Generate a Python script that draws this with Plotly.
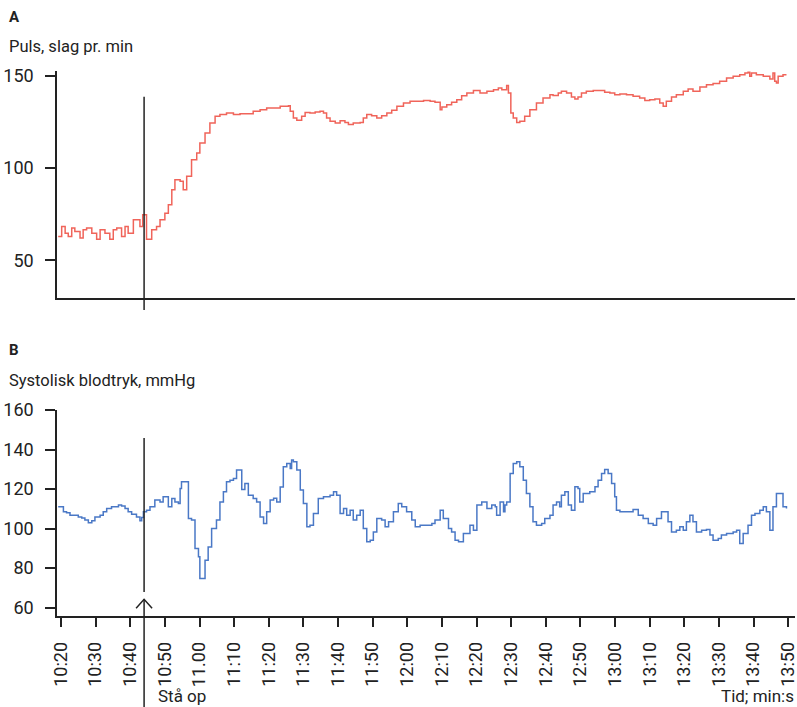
import plotly.graph_objects as go

# ---------------- data ----------------
# time in seconds (10:20 = 620 s); reading "min:s"
time_tick_vals = [620, 630, 640, 650, 660, 670, 680, 690, 700, 710, 720,
                  730, 740, 750, 760, 770, 780, 790, 800, 810, 820, 830]
time_tick_text = ["10:20", "10:30", "10:40", "10:50", "11.00", "11:10", "11:20",
                  "11:30", "11:40", "11:50", "12:00", "12:10", "12:20", "12:30",
                  "12:40", "12:50", "13:00", "13:10", "13:20", "13:30", "13:40", "13:50"]
stand_up_time = 644

pulse_ticks = [50, 100, 150]
bp_ticks = [60, 80, 100, 120, 140, 160]

pulse_time = [619.2, 620.2, 621.2, 622.1, 623.1, 624.0, 625.5, 626.4, 627.4, 628.9,
              630.3, 631.3, 632.7, 634.1, 635.1, 636.1, 637.5, 638.5, 639.4, 640.9,
              642.8, 643.6, 644.7, 646.2, 647.6, 648.6, 650.0, 651.0, 652.0, 652.9,
              654.4, 655.3, 656.3, 657.7, 659.2, 660.1, 661.6, 663.0, 664.5, 665.9,
              667.8, 669.8, 671.7, 675.5,
              677.5, 679.4, 681.4, 683.3, 685.7, 686.2, 687.1, 688.1, 689.5, 690.5,
              691.9, 693.4, 694.8, 695.8, 696.7, 697.7, 699.2, 700.6, 702.0, 703.0,
              704.4, 706.4, 707.3, 708.3, 709.7, 711.2, 712.6, 714.1, 715.5, 717.0,
              718.9, 720.8, 722.7, 724.7, 726.6, 728.0, 729.5, 730.0, 731.4, 732.8,
              734.3, 735.7, 737.2, 739.1, 741.0, 743.0, 744.9, 746.3, 747.3, 748.7,
              749.2, 749.9, 750.6, 751.6,
              752.5, 753.9, 755.4, 757.3, 759.2, 761.2, 762.1, 763.6, 764.5, 766.0,
              767.4, 768.4, 769.3, 770.3, 771.7, 773.7, 775.6, 777.0, 778.5, 779.9,
              781.4, 783.3, 785.2, 787.1, 788.6, 790.0, 791.5, 792.9, 793.9, 794.8,
              796.3, 797.7, 799.7, 801.1, 802.5, 804.5, 806.4, 808.3, 810.2, 812.2,
              814.1, 816.0, 817.5, 818.4, 818.9, 819.4, 820.8, 822.8, 824.7, 825.6,
              826.1, 826.6, 827.1, 828.5, 829.5]
pulse_bpm = [63.0, 68.4, 64.7, 63.0, 67.5, 65.7, 62.1, 66.6, 67.5, 64.7,
             61.5, 66.6, 64.7, 61.5, 66.6, 67.5, 63.0, 68.4, 64.7, 72.0,
             68.4, 74.7, 61.5, 66.6, 68.4, 72.0, 75.6, 80.1, 88.3, 93.7,
             92.8, 88.3, 95.5, 104.5, 108.1, 113.5, 118.9, 124.4, 128.0, 128.9,
             129.8, 128.9, 129.4, 130.7,
             131.6, 132.5, 132.5, 133.4, 133.7, 130.7, 127.1, 125.8, 128.0, 130.1,
             129.8, 130.3, 130.7, 129.8, 127.1, 125.3, 124.4, 125.6, 124.7, 123.5,
             124.4, 124.7, 127.1, 128.9, 128.3, 127.1, 128.3, 129.8, 131.2, 133.4,
             135.2, 136.1, 136.1, 136.6, 136.1, 135.6, 131.6, 133.0, 134.3, 135.6,
             137.0, 139.1, 140.6, 142.0, 140.6, 141.5, 142.4, 143.3, 142.4, 144.6,
             140.6, 129.8, 127.1, 124.7,
             125.3, 128.0, 131.6, 135.2, 137.9, 139.7, 139.2, 140.6, 141.5, 140.6,
             138.4, 137.3, 138.4, 140.6, 141.5, 142.0, 142.0, 141.0, 140.6, 139.7,
             140.1, 139.7, 138.8, 137.9, 136.6, 137.0, 137.3, 135.2, 133.4, 136.1,
             138.4, 139.7, 141.5, 142.8, 141.5, 143.9, 145.1, 145.7, 146.9, 148.7,
             149.6, 150.5, 151.4, 151.8, 149.6, 151.4, 150.5, 149.6, 148.2, 151.4,
             146.9, 146.0, 149.6, 150.5, 150.5]

bp_time = [619.2, 620.2, 620.7, 621.6, 622.6, 624.0, 625.0, 626.0, 626.9, 627.9,
           628.9, 629.8, 631.3, 632.2, 633.2, 634.6, 635.6, 636.6, 637.5, 638.5,
           639.4, 640.4, 641.8, 642.8, 643.3, 643.8, 644.7, 645.7, 647.1, 648.6,
           649.5, 650.5, 651.0, 652.0, 652.9, 653.9, 654.4, 654.8, 655.8, 656.8,
           657.7, 658.7, 659.7, 660.1, 661.1, 661.6, 662.5, 663.5, 664.9, 665.9,
           666.9, 667.8, 668.8, 669.8, 670.7, 671.7, 672.2, 673.1, 674.1, 675.5,
           676.5,
           677.5, 678.5, 679.4, 680.4, 681.4, 682.3, 683.3, 684.2, 685.2, 686.2,
           686.6, 687.1, 688.1, 689.1, 690.0, 691.0, 691.9, 692.9, 694.3, 695.8,
           697.7, 698.7, 699.6, 700.6, 701.6, 702.5, 703.5, 704.4, 705.4, 706.4,
           707.3, 708.3, 709.3, 710.2, 711.2, 712.6, 713.6, 714.6, 716.0, 717.4,
           718.4, 719.8, 721.3, 722.3, 723.7, 725.6, 727.1, 728.0, 729.5, 730.4,
           731.9, 732.8, 733.8, 734.8, 736.2, 738.1, 739.1, 740.1, 741.5, 743.0,
           744.4, 745.4, 745.8, 746.8, 747.8, 748.2, 748.7, 749.7, 750.6, 751.6,
           752.5, 753.5, 754.4, 755.4, 756.3, 757.3, 758.8, 759.7, 761.2, 762.1,
           763.1, 764.0, 764.5, 765.5, 766.5, 767.4, 768.4, 769.3, 769.8, 770.8,
           772.7, 774.2, 775.1, 776.1, 777.0, 778.0, 779.0, 779.9, 780.4, 781.4,
           783.3, 785.2, 786.7, 788.1, 789.6, 791.0, 792.0, 793.4, 794.4, 795.3,
           796.3, 797.7, 798.7, 799.7, 800.6, 801.6, 802.5, 803.5, 805.0, 806.4,
           807.4, 808.3, 809.8, 810.7, 812.2, 814.1, 815.1, 816.0, 817.0, 818.4,
           819.4, 820.4, 821.8, 822.8, 823.7, 824.7, 825.6, 826.6, 827.6, 828.5,
           829.5]
bp_mmhg = [111.0, 111.0, 108.5, 108.0, 106.8, 106.8, 105.9, 105.4, 104.3, 102.9,
           103.9, 105.9, 106.8, 108.5, 110.2, 111.0, 111.0, 111.9, 111.4, 110.2,
           108.5, 107.3, 105.9, 103.9, 105.6, 108.5, 109.3, 111.0, 114.4, 113.5,
           116.1, 116.1, 111.0, 115.2, 113.5, 112.7, 120.3, 123.7, 123.7, 105.1,
           104.3, 89.9, 85.7, 74.7, 74.7, 84.0, 90.7, 100.0, 104.3, 113.5,
           118.6, 123.7, 124.5, 125.4, 129.6, 129.6, 119.8, 122.8, 116.9, 115.2,
           113.5,
           105.9, 102.6, 108.5, 114.4, 115.3, 113.5, 121.1, 131.3, 133.0, 130.4,
           134.7, 133.8, 129.6, 119.5, 112.7, 100.9, 101.7, 107.6, 115.2, 116.1,
           116.9, 118.6, 116.9, 107.6, 110.2, 106.8, 109.3, 104.3, 106.8, 109.3,
           100.0, 93.3, 94.1, 98.3, 105.1, 104.3, 100.9, 103.4, 108.5, 112.7,
           111.0, 108.5, 104.3, 100.9, 101.7, 101.7, 102.6, 104.3, 109.3, 105.1,
           100.0, 98.3, 94.1, 93.3, 97.5, 101.7, 99.2, 111.9, 113.5, 110.2,
           111.9, 111.0, 106.8, 113.5, 108.5, 111.9, 113.5, 127.9, 133.0, 133.8,
           131.3, 124.5, 117.8, 111.0, 103.4, 101.7, 102.6, 105.1, 106.8, 111.9,
           113.5, 111.0, 116.9, 118.6, 111.9, 109.3, 121.2, 120.3, 113.5, 117.8,
           118.6, 121.2, 124.5, 127.9, 129.9, 127.9, 122.8, 116.1, 109.3, 108.5,
           108.5, 109.7, 106.8, 105.1, 102.6, 101.7, 105.1, 108.5, 108.5, 103.4,
           98.3, 99.2, 100.9, 99.2, 103.4, 106.8, 103.4, 98.3, 99.2, 99.5,
           96.7, 94.1, 95.0, 96.7, 97.5, 98.3, 99.2, 92.4, 97.5, 101.7,
           106.8, 107.6, 109.3, 111.0, 108.5, 99.2, 111.0, 117.8, 117.8, 111.0,
           110.2]

# ---------------- style ----------------
RED = "#f0645a"
BLUE = "#4a78c6"
INK = "#222222"
FONT = "Roboto, Liberation Sans, sans-serif"

W, H = 797, 707
ML, MR, MT, MB = 57, 2, 71.4, 91.3
plot_h = H - MT - MB


def py(pix):
    """pixel row -> paper y"""
    return (H - MB - pix) / plot_h


def px(pix):
    return (pix - ML) / (W - ML - MR)


fig = go.Figure()
fig.add_trace(go.Scatter(x=pulse_time, y=pulse_bpm, mode="lines",
                         line=dict(color=RED, width=1.5, shape="hv"),
                         xaxis="x", yaxis="y", showlegend=False, hoverinfo="skip"))
fig.add_trace(go.Scatter(x=bp_time, y=bp_mmhg, mode="lines",
                         line=dict(color=BLUE, width=1.5, shape="hv"),
                         xaxis="x2", yaxis="y2", showlegend=False, hoverinfo="skip"))

xr = [618.85, 831.96]
axis_common = dict(showline=True, linecolor=INK, linewidth=1.5, showgrid=False,
                   zeroline=False, tickcolor=INK, tickwidth=1.5, automargin=False,
                   ticklabeloverflow="allow",
                   tickfont=dict(family=FONT, size=18, color=INK))

fig.update_layout(
    width=W, height=H, margin=dict(l=ML, r=MR, t=MT, b=MB),
    paper_bgcolor="white", plot_bgcolor="white",
    xaxis=dict(domain=[0, 1], anchor="y", range=xr, showticklabels=False, ticks="",
               **axis_common),
    yaxis=dict(domain=[py(297.7), 1], anchor="x", range=[29.9, 152.5],
               tickvals=pulse_ticks, ticks="outside", ticklen=10,
               ticklabelstandoff=8, **axis_common),
    xaxis2=dict(domain=[0, 1], anchor="y2", range=xr, tickvals=time_tick_vals,
                ticktext=time_tick_text, tickangle=-90, ticks="outside", ticklen=9,
                ticklabelstandoff=8, **axis_common),
    yaxis2=dict(domain=[0, py(410)], anchor="x2", range=[55.74, 160],
                tickvals=bp_ticks, ticks="outside", ticklen=10,
                ticklabelstandoff=8, **axis_common),
)

line_style = dict(color=INK, width=1.5)
fig.add_shape(type="line", xref="x", yref="paper", x0=stand_up_time, x1=stand_up_time,
              y0=py(310), y1=py(97), line=line_style)
fig.add_shape(type="line", xref="x", yref="paper", x0=stand_up_time, x1=stand_up_time,
              y0=py(591.7), y1=py(438), line=line_style)
fig.add_shape(type="line", xref="x", yref="paper", x0=stand_up_time, x1=stand_up_time,
              y0=py(707), y1=py(599), line=line_style)
fig.add_shape(type="path", xref="x", yref="paper", line=line_style,
              path=f"M {stand_up_time - 2.31},{py(608)} L {stand_up_time},{py(599)} "
                   f"L {stand_up_time + 2.31},{py(608)}")

txt = dict(xref="paper", yref="paper", showarrow=False, yanchor="middle")
fig.add_annotation(text="<b>A</b>", x=px(7), y=py(17), xanchor="left",
                   font=dict(family=FONT, size=15, color=INK), **txt)
fig.add_annotation(text="Puls, slag pr. min", x=px(7), y=py(47), xanchor="left",
                   font=dict(family=FONT, size=16.5, color=INK), **txt)
fig.add_annotation(text="<b>B</b>", x=px(7), y=py(350), xanchor="left",
                   font=dict(family=FONT, size=15, color=INK), **txt)
fig.add_annotation(text="Systolisk blodtryk, mmHg", x=px(7), y=py(381), xanchor="left",
                   font=dict(family=FONT, size=16.5, color=INK), **txt)
fig.add_annotation(text="Stå op", x=px(156), y=py(696), xanchor="left",
                   font=dict(family=FONT, size=17, color=INK), **txt)
fig.add_annotation(text="Tid; min:s", x=px(796), y=py(696), xanchor="right",
                   font=dict(family=FONT, size=17, color=INK), **txt)

# the page's default 8 px body margin would push the fixed-size figure off-canvas
fig.write_html("out.html", config={"displayModeBar": False},
               post_script="document.body.style.margin='0';"
                           "document.body.style.overflow='hidden';")
